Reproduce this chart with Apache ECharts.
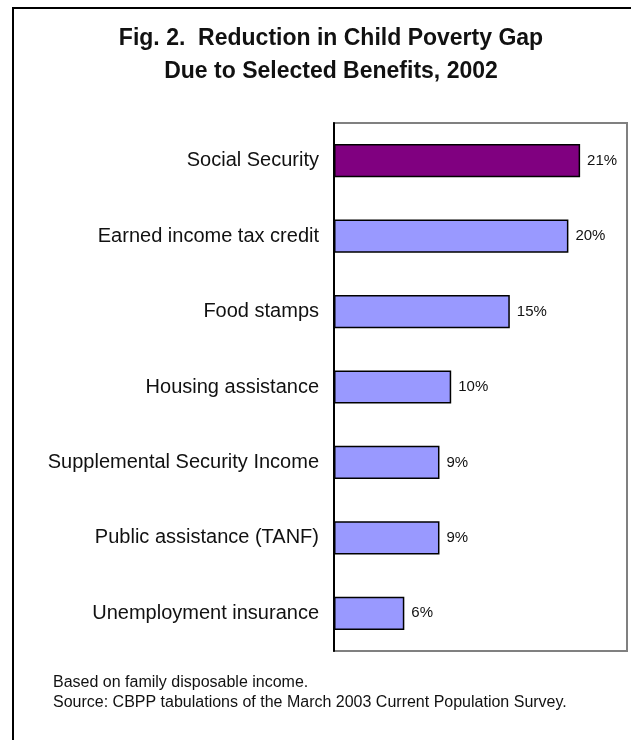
<!DOCTYPE html>
<html>
<head>
<meta charset="utf-8">
<script src="https://cdn.jsdelivr.net/npm/echarts@6/dist/echarts.min.js"></script>
<style>
html,body{margin:0;padding:0;background:#fff;}
#chart{width:631px;height:740px;}
</style>
</head>
<body>
<div id="chart"></div>
<script>
const categories = ["Social Security","Earned income tax credit","Food stamps","Housing assistance","Supplemental Security Income","Public assistance (TANF)","Unemployment insurance"];
const values = [21, 20, 15, 10, 9, 9, 6];
const valueLabels = ["21%","20%","15%","10%","9%","9%","6%"];
const barColors = ["#800080","#9999FF","#9999FF","#9999FF","#9999FF","#9999FF","#9999FF"];
const titleLines = ["Fig. 2.  Reduction in Child Poverty Gap","Due to Selected Benefits, 2002"];
const notes = ["Based on family disposable income.","Source: CBPP tabulations of the March 2003 Current Population Survey."];

const chart = echarts.init(document.getElementById('chart'), null, {renderer:'canvas'});
const font = "Liberation Sans, Arial, sans-serif";
chart.setOption({
  backgroundColor:'#fff',
  animation:false,
  title:{
    text: titleLines.join('\n'),
    left: 326, top: 17, textAlign:'center',
    textStyle:{fontFamily:font, fontSize:23, fontWeight:'bold', color:'#111', lineHeight:33}
  },
  grid:{left:334, top:123, right:4, bottom:89, show:true, borderColor:'#808080', borderWidth:2, backgroundColor:'#fff'},
  xAxis:{type:'value', min:0, max:25, show:false},
  yAxis:{type:'category', data:categories, inverse:true,
    axisLine:{show:true, lineStyle:{color:'#000', width:2}},
    axisTick:{show:false},
    axisLabel:{fontFamily:font, fontSize:20, color:'#111', margin:15},
    splitLine:{show:false}
  },
  series:[{
    type:'bar',
    data: values.map((v,i)=>({value:v, itemStyle:{color:barColors[i]}})),
    barWidth:'44%',
    itemStyle:{borderColor:'#000', borderWidth:1.5},
    label:{show:true, position:'right', distance:7, fontFamily:font, fontSize:15, color:'#111',
      formatter:p=>valueLabels[p.dataIndex]}
  }],
  graphic:[
    {type:'rect', shape:{x:13, y:8, width:640, height:760}, style:{fill:'none', stroke:'#000', lineWidth:2}, silent:true, z:-1},
    {type:'text', left:53, top:675, style:{text:notes[0], fontFamily:font, fontSize:16, fill:'#111'}},
    {type:'text', left:53, top:695, style:{text:notes[1], fontFamily:font, fontSize:16, fill:'#111'}}
  ]
});
</script>
</body>
</html>
